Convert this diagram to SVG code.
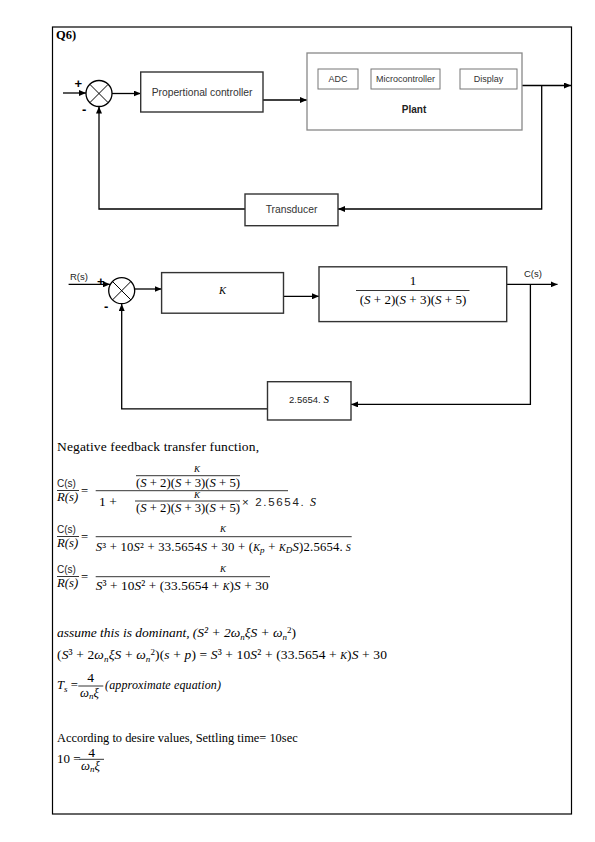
<svg xmlns="http://www.w3.org/2000/svg" width="595" height="842" viewBox="0 0 595 842">
<defs>
<marker id="ah" markerUnits="userSpaceOnUse" markerWidth="7" markerHeight="6" refX="7" refY="3" orient="auto"><path d="M0,0 L7,3 L0,6 z" fill="#000"/></marker>
</defs>
<style>
.ln{fill:none;stroke:#000;stroke-width:1.3}
.fl{stroke:#000;stroke-width:0.8}
.bx{fill:#fff;stroke:#333;stroke-width:1.4}
.gb{fill:#fff;stroke:#888;stroke-width:1.3}
.ib{fill:#fff;stroke:#777;stroke-width:1}
.sj{fill:#fff;stroke:#000;stroke-width:1.3}
.x{stroke:#000;stroke-width:1}
.lb{font-family:"Liberation Sans",Arial,sans-serif;font-size:10.3px;fill:#333;text-anchor:middle}
.sm{font-size:9px}
.sg{font-family:"Liberation Sans",Arial,sans-serif;font-weight:bold;font-size:13px;fill:#000}
.tx{font-family:"Liberation Serif","Times New Roman",serif;font-size:13.5px;fill:#000}
.m{font-family:"Liberation Serif","Times New Roman",serif;font-size:12.7px;fill:#000}
.i{font-style:italic}
.c{text-anchor:middle}
.sf{font-family:"Liberation Sans",Arial,sans-serif;font-size:9.5px;fill:#222}
</style>
<rect x="0" y="0" width="595" height="842" fill="#fff"/>
<rect x="52.5" y="27" width="519" height="787" fill="none" stroke="#000" stroke-width="1.2"/>
<text x="56" y="39" font-family="Liberation Serif,serif" font-weight="bold" font-size="12.5px">Q6)</text>

<g id="connectors">
<line class="ln" x1="63" y1="93" x2="86" y2="93" marker-end="url(#ah)"/>
<line class="ln" x1="112" y1="93.5" x2="140.7" y2="93.5" marker-end="url(#ah)"/>
<line class="ln" x1="263" y1="100" x2="307" y2="100" marker-end="url(#ah)"/>
<line class="ln" x1="358" y1="79" x2="371" y2="79" marker-end="url(#ah)"/>
<line class="ln" x1="440" y1="79" x2="460" y2="79" marker-end="url(#ah)"/>
<line class="ln" x1="522" y1="85.5" x2="571" y2="85.5" marker-end="url(#ah)"/>
<polyline class="ln" points="541.7,85.5 541.7,209 338,209" marker-end="url(#ah)"/>
<polyline class="ln" points="245,209 99,209 99,106.5" marker-end="url(#ah)"/>

<line class="ln" x1="68.6" y1="284.3" x2="110" y2="284.3" marker-end="url(#ah)"/>
<line class="ln" x1="134.7" y1="289" x2="161.6" y2="289" marker-end="url(#ah)"/>
<line class="ln" x1="283.5" y1="296.3" x2="319" y2="296.3" marker-end="url(#ah)"/>
<line class="ln" x1="506.7" y1="284.4" x2="557.5" y2="284.4" marker-end="url(#ah)"/>
<polyline class="ln" points="530.4,284.4 530.4,404.4 351,404.4" marker-end="url(#ah)"/>
<polyline class="ln" points="267.5,408.8 121.7,408.8 121.7,304" marker-end="url(#ah)"/>
</g>

<g id="sum1">
<circle class="sj" cx="99" cy="93.5" r="13"/>
<path class="x" d="M89.8,84.3 L108.2,102.7 M108.2,84.3 L89.8,102.7"/>
<text class="sg" x="74.5" y="88">+</text>
<text class="sg" x="82" y="114">-</text>
</g>
<g id="controller">
<rect class="bx" x="140.7" y="72" width="122.3" height="40"/>
<text class="lb" x="202" y="95.5">Propertional controller</text>
</g>
<g id="plant">
<rect class="gb" x="307" y="53" width="215" height="77"/>
<text class="lb" x="414" y="113" font-weight="bold" style="font-size:10px;fill:#222">Plant</text>
</g>
<g id="adc">
<rect class="ib" x="318" y="69" width="40" height="20"/>
<text class="lb sm" x="338" y="82">ADC</text>
</g>
<g id="micro">
<rect class="ib" x="371" y="69" width="69" height="20"/>
<text class="lb sm" x="405.5" y="82">Microcontroller</text>
</g>
<g id="display">
<rect class="ib" x="460" y="69" width="57" height="20"/>
<text class="lb sm" x="488.5" y="82">Display</text>
</g>
<g id="transducer">
<rect class="bx" x="245" y="194" width="93" height="31.7"/>
<text class="lb" x="291.5" y="212.5">Transducer</text>
</g>

<g id="sum2">
<circle class="sj" cx="121.7" cy="290.7" r="13"/>
<path class="x" d="M112.5,281.5 L130.9,299.9 M130.9,281.5 L112.5,299.9"/>
<text class="sf" x="70" y="280">R(s)</text>
<text class="sg" x="97" y="286">+</text>
<text class="sg" x="104" y="311">-</text>
</g>
<g id="gainK">
<rect class="bx" x="161.6" y="272.6" width="121.9" height="40.6"/>
<text class="m i c" x="222.6" y="294" style="font-size:10.5px">K</text>
</g>
<g id="process">
<rect class="bx" x="319" y="266.8" width="187.7" height="54.8"/>
<text class="m c" x="413" y="284.5" style="font-size:13px">1</text>
<line class="fl" x1="356" y1="290.5" x2="469.5" y2="290.5"/>
<text class="m c" x="413" y="304" style="font-size:13px">(<tspan class="i">S</tspan> + 2)(<tspan class="i">S</tspan> + 3)(<tspan class="i">S</tspan> + 5)</text>
<text class="sf" x="524" y="277">C(s)</text>
</g>
<g id="feedback">
<rect class="bx" x="267.5" y="381.7" width="83.5" height="38.3"/>
<text class="sf" x="309" y="403" text-anchor="middle">2.5654.<tspan class="m i" style="font-size:11px"> S</tspan></text>
</g>

<g id="text">
<text class="tx" x="57" y="451" textLength="202" lengthAdjust="spacing">Negative feedback transfer function,</text>

<text class="sf" x="57" y="487" style="font-size:10px">C(s)</text>
<line class="fl" x1="57" y1="490.5" x2="79" y2="490.5"/>
<text class="m i" x="57" y="501">R(s)</text>
<text class="m" x="81" y="494.5">=</text>
<line class="fl" x1="95.7" y1="490.7" x2="288" y2="490.7"/>
<text class="m i c" x="197" y="471.5" style="font-size:9px">K</text>
<line class="fl" x1="136" y1="475.7" x2="240" y2="475.7"/>
<text class="m c" x="188" y="486.5">(<tspan class="i">S</tspan> + 2)(<tspan class="i">S</tspan> + 3)(<tspan class="i">S</tspan> + 5)</text>
<text class="m" x="99" y="505.5" style="font-size:13.5px">1 +</text>
<text class="m i c" x="197" y="498" style="font-size:9px">K</text>
<line class="fl" x1="135" y1="501" x2="240" y2="501"/>
<text class="m c" x="188" y="511.5">(<tspan class="i">S</tspan> + 2)(<tspan class="i">S</tspan> + 3)(<tspan class="i">S</tspan> + 5)</text>
<text class="sf" x="242" y="505.5" style="font-size:11.5px" textLength="74" lengthAdjust="spacing">× 2.5654.<tspan class="m i" style="font-size:12px"> S</tspan></text>

<text class="sf" x="57" y="533.3" style="font-size:10px">C(s)</text>
<line class="fl" x1="57" y1="536.5" x2="79" y2="536.5"/>
<text class="m i" x="57" y="547">R(s)</text>
<text class="m" x="81" y="540.5">=</text>
<line class="fl" x1="95.7" y1="536.7" x2="351.7" y2="536.7"/>
<text class="m i c" x="223" y="531.5" style="font-size:9px">K</text>
<text class="m" x="95.7" y="550.7" textLength="255" lengthAdjust="spacing"><tspan class="i">S</tspan>³ + 10<tspan class="i">S</tspan>² + 33.5654<tspan class="i">S</tspan> + 30 + (<tspan class="i" style="font-size:10px">K</tspan><tspan class="i" dy="2" style="font-size:9px">p</tspan><tspan dy="-2"> + </tspan><tspan class="i" style="font-size:10px">K</tspan><tspan class="i" dy="2" style="font-size:9px">D</tspan><tspan class="i" dy="-2">S</tspan>)2.5654.<tspan class="i" style="font-size:10px"> S</tspan></text>

<text class="sf" x="57" y="573.3" style="font-size:10px">C(s)</text>
<line class="fl" x1="57" y1="576.5" x2="79" y2="576.5"/>
<text class="m i" x="57" y="587">R(s)</text>
<text class="m" x="81" y="580.5">=</text>
<line class="fl" x1="95.7" y1="576.7" x2="270" y2="576.7"/>
<text class="m i c" x="223" y="571.5" style="font-size:9px">K</text>
<text class="m" x="95.7" y="590" style="font-size:13.3px" textLength="173" lengthAdjust="spacing"><tspan class="i">S</tspan>³ + 10<tspan class="i">S</tspan>² + (33.5654 + <tspan class="i" style="font-size:10px">K</tspan>)<tspan class="i">S</tspan> + 30</text>

<text class="m i" x="57" y="637.3" style="font-size:13.5px" textLength="239" lengthAdjust="spacing">assume this is dominant, (S² + 2ω<tspan dy="2.5" style="font-size:9px">n</tspan><tspan dy="-2.5">ξS + ω</tspan><tspan dy="2.5" style="font-size:9px">n</tspan><tspan dy="-7" style="font-size:9px" font-style="normal">2</tspan><tspan dy="4.5" font-style="normal">)</tspan></text>

<text class="m" x="57" y="659.3" style="font-size:13.5px" textLength="330" lengthAdjust="spacing">(<tspan class="i">S</tspan>³ + 2<tspan class="i">ω</tspan><tspan class="i" dy="2.5" style="font-size:9px">n</tspan><tspan class="i" dy="-2.5">ξS</tspan> + <tspan class="i">ω</tspan><tspan class="i" dy="2.5" style="font-size:9px">n</tspan><tspan dy="-7" style="font-size:9px">2</tspan><tspan dy="4.5">)(</tspan><tspan class="i">s</tspan> + <tspan class="i">p</tspan>) = <tspan class="i">S</tspan>³ + 10<tspan class="i">S</tspan>² + (33.5654 + <tspan class="i" style="font-size:10px">K</tspan>)<tspan class="i">S</tspan> + 30</text>

<text class="m i" x="57" y="689.3">T<tspan dy="2.5" style="font-size:9px">s</tspan><tspan dy="-2.5" font-style="normal"> =</tspan></text>
<text class="m c" x="90.5" y="681.7" style="font-size:13.5px">4</text>
<line class="fl" x1="78.3" y1="686" x2="103.3" y2="686"/>
<text class="m i" x="80" y="696.5">ω<tspan dy="2.5" style="font-size:9px">n</tspan><tspan dy="-2.5">ξ</tspan></text>
<text class="m i" x="105" y="689.3" style="font-size:12px" textLength="116" lengthAdjust="spacing">(approximate equation)</text>

<text class="tx" x="57" y="741.7" style="font-size:12.4px">According to desire values, Settling time= 10sec</text>
<text class="m" x="57" y="762.7" style="font-size:13px">10 =</text>
<text class="m c" x="91.5" y="756.7" style="font-size:13.5px">4</text>
<line class="fl" x1="79.3" y1="759.3" x2="104" y2="759.3"/>
<text class="m i" x="81" y="769.5">ω<tspan dy="2.5" style="font-size:9px">n</tspan><tspan dy="-2.5">ξ</tspan></text>
</g>
</svg>
